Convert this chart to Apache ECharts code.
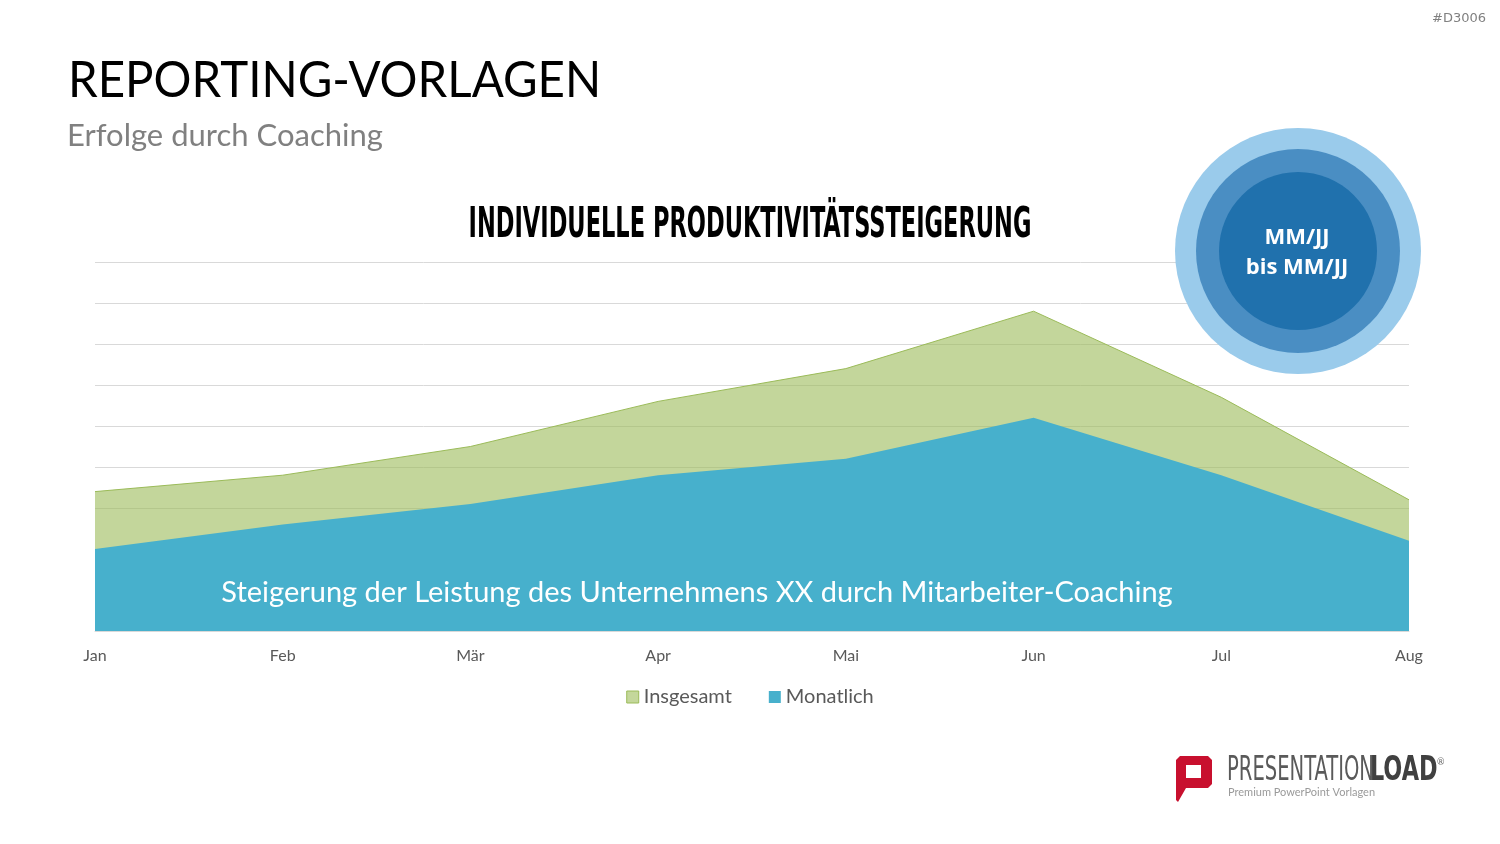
<!DOCTYPE html>
<html>
<head>
<meta charset="utf-8">
<script src="https://cdn.jsdelivr.net/npm/echarts@6/dist/echarts.min.js"></script>
<style>
  html, body { margin: 0; padding: 0; background: #fff; }
  #chart { width: 1500px; height: 844px; }
</style>
</head>
<body>
<div id="chart"></div>
<script>
const months = ["Jan", "Feb", "Mär", "Apr", "Mai", "Jun", "Jul", "Aug"];
const insgesamt = [3.4, 3.8, 4.5, 5.6, 6.4, 7.8, 5.7, 3.2];
const monatlich = [2.0, 2.6, 3.1, 3.8, 4.2, 5.2, 3.8, 2.2];
const seriesNames = ["Insgesamt", "Monatlich"];

const chart = echarts.init(document.getElementById("chart"), null, { renderer: "canvas" });

const baseFont = "Lato, 'Open Sans', sans-serif";
const narrowFont = "'Liberation Sans Narrow', 'DejaVu Sans Condensed', sans-serif";

chart.setOption({
  backgroundColor: "#ffffff",
  animation: false,
  grid: { left: 95, right: 91, top: 262, bottom: 213 },
  legend: {
    bottom: 132,
    left: "center",
    icon: "rect",
    itemWidth: 12,
    itemHeight: 12,
    itemGap: 37,
    textStyle: { color: "#595959", fontSize: 20, fontFamily: baseFont },
    data: [
      { name: seriesNames[0], itemStyle: { color: "#C4D79B", borderColor: "#9BBB59", borderWidth: 1 } },
      { name: seriesNames[1], itemStyle: { color: "#47B0CC" } },
    ],
  },
  xAxis: {
    type: "category",
    data: months,
    boundaryGap: false,
    axisLine: { lineStyle: { color: "#d9d9d9" } },
    axisTick: { show: false },
    axisLabel: { color: "#595959", fontSize: 16, fontFamily: baseFont, margin: 17 },
  },
  yAxis: {
    type: "value",
    min: 0,
    max: 9,
    interval: 1,
    axisLabel: { show: false },
    axisLine: { show: false },
    axisTick: { show: false },
    splitLine: { lineStyle: { color: "#d9d9d9", width: 1 } },
  },
  series: [
    {
      name: seriesNames[0],
      type: "line",
      data: insgesamt,
      showSymbol: false,
      color: "#9BBB59",
      lineStyle: { color: "#9BBB59", width: 1 },
      areaStyle: { color: "rgba(155,187,89,0.6)", opacity: 1 },
      z: 2,
    },
    {
      name: seriesNames[1],
      type: "line",
      data: monatlich,
      showSymbol: false,
      color: "#47B0CC",
      lineStyle: { width: 0 },
      areaStyle: { color: "#47B0CC", opacity: 1 },
      z: 3,
    },
  ],
  graphic: [
    {
      type: "text", x: 68, y: 81, z: 10, scaleX: 0.93,
      style: { text: "REPORTING-VORLAGEN", fill: "#000", fontSize: 51, fontFamily: baseFont, textVerticalAlign: "middle" },
    },
    {
      type: "text", left: 67, top: 120, z: 10,
      style: { text: "Erfolge durch Coaching", fill: "#808080", fontSize: 31, fontFamily: baseFont },
    },
    {
      type: "text", right: 14, top: 12, z: 10,
      style: { text: "#D3006", fill: "#808080", fontSize: 13, fontFamily: "'DejaVu Sans', sans-serif" },
    },
    {
      type: "text", x: 750, y: 205, z: 10, scaleX: 0.596,
      style: {
        text: "INDIVIDUELLE PRODUKTIVITÄTSSTEIGERUNG", fill: "#000", fontSize: 42, fontWeight: "bold",
        fontFamily: narrowFont, textAlign: "center",
      },
    },
    {
      type: "text", x: 697, y: 593, z: 10,
      style: {
        text: "Steigerung der Leistung des Unternehmens XX durch Mitarbeiter-Coaching", fill: "#fff",
        fontSize: 29, fontFamily: baseFont, textAlign: "center", textVerticalAlign: "middle",
      },
    },
    { type: "circle", shape: { cx: 1298, cy: 251, r: 123 }, style: { fill: "#9ACBEB" }, z: 20 },
    { type: "circle", shape: { cx: 1298, cy: 251, r: 102 }, style: { fill: "#4A8EC3" }, z: 21 },
    { type: "circle", shape: { cx: 1298, cy: 251, r: 79 }, style: { fill: "#2071AD" }, z: 22 },
    {
      type: "text", x: 1297, y: 253, z: 23,
      style: {
        text: "MM/JJ\nbis MM/JJ", fill: "#fff", fontSize: 22, fontWeight: "bold", lineHeight: 30,
        fontFamily: "'Open Sans', sans-serif", textAlign: "center", textVerticalAlign: "middle",
      },
    },
    {
      type: "polygon", z: 10,
      shape: { points: [[1180, 756], [1208, 756], [1212, 760], [1212, 784], [1208, 788], [1186, 788], [1178, 802], [1176, 800], [1176, 760]] },
      style: { fill: "#C8102E" },
    },
    { type: "rect", z: 11, shape: { x: 1186, y: 765, width: 15, height: 13 }, style: { fill: "#fff" } },
    {
      type: "text", x: 1227, y: 771, z: 10, scaleX: 0.64,
      style: { text: "PRESENTATION", fill: "#5a5a5a", fontSize: 34, fontFamily: narrowFont, textVerticalAlign: "middle" },
    },
    {
      type: "text", x: 1370, y: 771, z: 10, scaleX: 0.73,
      style: { text: "LOAD", fill: "#404040", fontSize: 34, fontWeight: "bold", fontFamily: narrowFont, textVerticalAlign: "middle" },
    },
    {
      type: "text", x: 1437, y: 758, z: 10,
      style: { text: "®", fill: "#666", fontSize: 9, fontFamily: baseFont },
    },
    {
      type: "text", x: 1228, y: 792, z: 10,
      style: { text: "Premium PowerPoint Vorlagen", fill: "#9a9a9a", fontSize: 11, fontFamily: baseFont, textVerticalAlign: "middle" },
    },
  ],
});
</script>
</body>
</html>
